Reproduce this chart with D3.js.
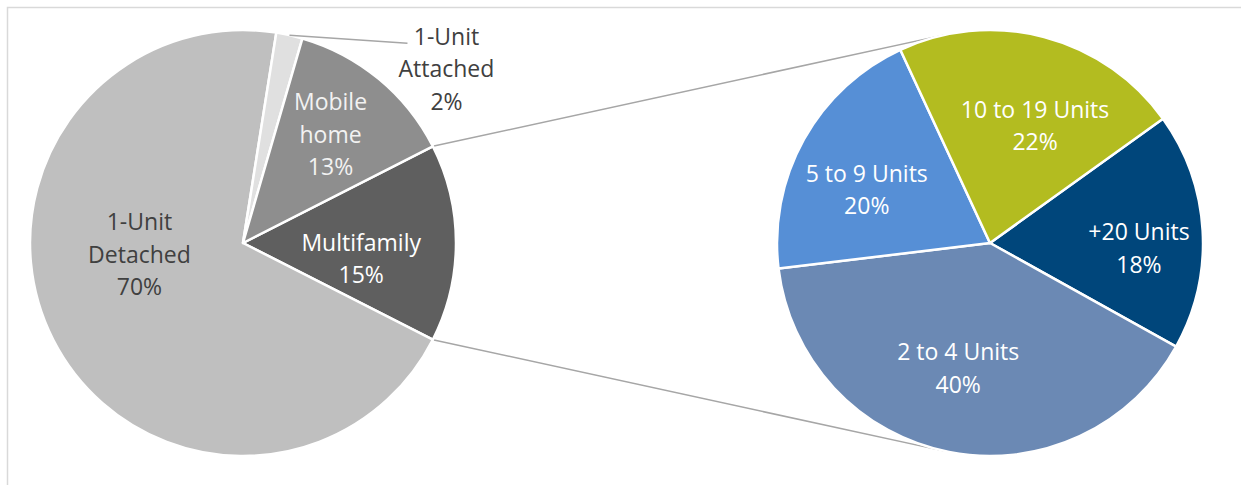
<!DOCTYPE html>
<html>
<head>
<meta charset="utf-8">
<script src="https://cdn.jsdelivr.net/npm/d3@7"></script>
<style>
  html, body { margin: 0; padding: 0; background: #fff; }
  svg text { font-family: "Open Sans", "Noto Sans", sans-serif; }
</style>
</head>
<body>
<svg id="chart"></svg>
<script>
// main pie (clockwise from the Multifamily slice)
const mainCats = ["Multifamily", "1-Unit Detached", "1-Unit Attached", "Mobile home"];
const mainVals = [15, 70, 2, 13];
const mainLabels = ["15%", "70%", "2%", "13%"];

// breakdown of the Multifamily slice
const subCats = ["+20 Units", "2 to 4 Units", "5 to 9 Units", "10 to 19 Units"];
const subVals = [18, 40, 20, 22];
const subLabels = ["18%", "40%", "20%", "22%"];

const width = 1241, height = 485;
const r = 213;
const left = { x: 243, y: 243 };
const right = { x: 990, y: 243 };
const lineH = 32.5;

const mainColors = ["#5f5f5f", "#bfbfbf", "#e0e0e0", "#8e8e8e"];
const mainText = ["#ffffff", "#404040", "#404040", "#f2f2f2"];
const subColors = ["#00467b", "#6b89b4", "#568fd6", "#b3bc20"];

// label nudges away from the arc centroid (Excel best fit)
const mainNudge = [[-16, 15], [16, -50], [0, 0], [2, -6]];
const subNudge = [[15, 12], [-6, -7], [-6, 11], [11, 12]];

const svg = d3.select("#chart")
    .attr("width", width)
    .attr("height", height);

//chart border (right and bottom fall outside the picture)
svg.append("rect")
    .attr("x", 7.5).attr("y", 7.5)
    .attr("width", 1400).attr("height", 600)
    .attr("fill", "none")
    .attr("stroke", "#d9d9d9")
    .attr("stroke-width", 1.5);

const mainStart = Math.PI / 2 - Math.PI * mainVals[0] / 100;
const mainPie = d3.pie().sort(null)
    .startAngle(mainStart).endAngle(mainStart + 2 * Math.PI);
const subStart = 54.3 * Math.PI / 180;
const subPie = d3.pie().sort(null)
    .startAngle(subStart).endAngle(subStart + 2 * Math.PI);

const arc = d3.arc().innerRadius(0).outerRadius(r);
const labelArc = d3.arc().innerRadius(r * 0.63).outerRadius(r * 0.63);

const mainArcs = mainPie(mainVals);
const subArcs = subPie(subVals);

//connector lines: tangents from the Multifamily corners to the second pie
function polar(c, a, rad) {
    return [c.x + rad * Math.sin(a), c.y - rad * Math.cos(a)];
}
function tangent(p, upper) {
    const dx = p[0] - right.x, dy = p[1] - right.y;
    const d = Math.sqrt(dx * dx + dy * dy);
    const th = Math.atan2(dy, dx);
    const off = Math.acos(r / d);
    const cands = [th + off, th - off].map(a => [right.x + r * Math.cos(a), right.y + r * Math.sin(a)]);
    return cands.sort((a, b) => upper ? a[1] - b[1] : b[1] - a[1])[0];
}
const mf = mainArcs[0];
const pTop = polar(left, mf.startAngle, r);
const pBot = polar(left, mf.endAngle, r);
[[pTop, tangent(pTop, true)], [pBot, tangent(pBot, false)]].forEach(seg => {
    svg.append("line")
        .attr("x1", seg[0][0]).attr("y1", seg[0][1])
        .attr("x2", seg[1][0]).attr("y2", seg[1][1])
        .attr("stroke", "#a6a6a6")
        .attr("stroke-width", 1.5);
});

//slices
const gMain = svg.append("g").attr("transform", `translate(${left.x},${left.y})`);
gMain.selectAll("path")
    .data(mainArcs)
    .join("path")
    .attr("d", arc)
    .attr("fill", (d, i) => mainColors[i])
    .attr("stroke", "#fff")
    .attr("stroke-width", 2.5)
    .attr("stroke-linejoin", "round");

const gSub = svg.append("g").attr("transform", `translate(${right.x},${right.y})`);
gSub.selectAll("path")
    .data(subArcs)
    .join("path")
    .attr("d", arc)
    .attr("fill", (d, i) => subColors[i])
    .attr("stroke", "#fff")
    .attr("stroke-width", 2.5)
    .attr("stroke-linejoin", "round");

function addLabel(g, x, y, lines, color) {
    const t = g.append("text")
        .attr("text-anchor", "middle")
        .attr("font-size", 23)
        .attr("fill", color);
    lines.forEach((s, k) => {
        t.append("tspan")
            .attr("x", x)
            .attr("y", y + (k - (lines.length - 1) / 2) * lineH)
            .attr("dominant-baseline", "central")
            .text(s);
    });
}

//main labels
mainArcs.forEach((d, i) => {
    const lines = mainCats[i].split(" ").concat([mainLabels[i]]);
    if (i === 2) {
        // small slice: label outside with a leader line
        const mid = (d.startAngle + d.endAngle) / 2;
        const p = polar({ x: 0, y: 0 }, mid, r);
        gMain.append("line")
            .attr("x1", p[0]).attr("y1", p[1])
            .attr("x2", p[0] + 118).attr("y2", p[1] + 8)
            .attr("stroke", "#a6a6a6")
            .attr("stroke-width", 1.5);
        addLabel(gMain, p[0] + 157, p[1] + 33, lines, mainText[i]);
        return;
    }
    const c = labelArc.centroid(d);
    addLabel(gMain, c[0] + mainNudge[i][0], c[1] + mainNudge[i][1], lines, mainText[i]);
});

//breakdown labels
subArcs.forEach((d, i) => {
    const c = labelArc.centroid(d);
    addLabel(gSub, c[0] + subNudge[i][0], c[1] + subNudge[i][1], [subCats[i], subLabels[i]], "#ffffff");
});
</script>
</body>
</html>
